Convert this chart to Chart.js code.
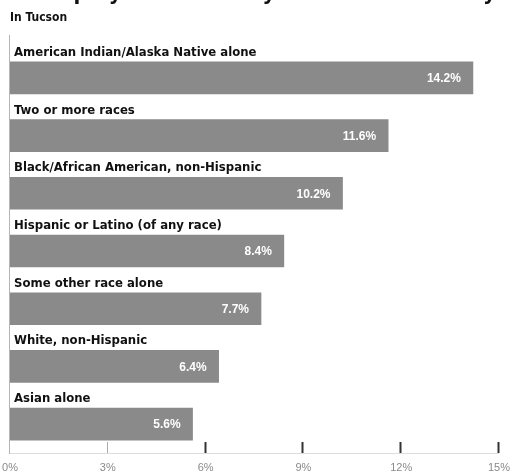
<!DOCTYPE html>
<html>
<head>
<meta charset="utf-8">
<script src="https://cdn.jsdelivr.net/npm/chart.js@4/dist/chart.umd.min.js"></script>
<style>
  body { margin: 0; background: #fff; }
  .wrap { position: relative; width: 511px; height: 476px; overflow: hidden; }
  .title {
    position: absolute; left: 8px; top: -18px; white-space: nowrap; color: #111;
    letter-spacing: 0.3px;
    font: bold 22px/22px "DejaVu Sans Condensed", "DejaVu Sans", sans-serif;
  }
  .sub {
    position: absolute; left: 10px; top: 11px; white-space: nowrap; color: #111;
    font: bold 12px/12px "DejaVu Sans Condensed", "DejaVu Sans", sans-serif;
  }
  canvas { position: absolute; left: 0; top: 0; }
</style>
</head>
<body>
<div class="wrap">
  <canvas id="chart" width="511" height="476"></canvas>
  <div class="title">Unemployment Rate by Race and Ethnicity</div>
  <div class="sub">In Tucson</div>
</div>
<script>
const categories = [
  'American Indian/Alaska Native alone',
  'Two or more races',
  'Black/African American, non-Hispanic',
  'Hispanic or Latino (of any race)',
  'Some other race alone',
  'White, non-Hispanic',
  'Asian alone'
];
const rates = [14.2, 11.6, 10.2, 8.4, 7.7, 6.4, 5.6];
const tickValues = [0, 3, 6, 9, 12, 15];

const labelFont = 'bold 13px "DejaVu Sans Condensed", "DejaVu Sans", sans-serif';
const valueFont = 'bold 12px "Liberation Sans", Arial, sans-serif';

// axis line, baseline and upward tick marks, drawn under the bars
const axisPlugin = {
  id: 'axisMarks',
  beforeDatasetsDraw(chart) {
    const { ctx, chartArea: a, scales: { x } } = chart;
    ctx.save();
    ctx.lineWidth = 1;
    ctx.strokeStyle = '#ddd';
    ctx.beginPath();
    ctx.moveTo(a.left, a.bottom + 0.5);
    ctx.lineTo(a.right, a.bottom + 0.5);
    ctx.stroke();

    ctx.strokeStyle = '#b5b5b5';
    ctx.beginPath();
    ctx.moveTo(a.left - 0.5, a.top - 14);
    ctx.lineTo(a.left - 0.5, a.bottom + 1);
    ctx.stroke();

    tickValues.forEach(v => {
      if (v === 0) return;
      const px = Math.round(x.getPixelForValue(v)) - 0.5;
      ctx.strokeStyle = v < 5 ? '#aaa' : '#333';
      ctx.lineWidth = v < 5 ? 1 : 2;
      ctx.beginPath();
      ctx.moveTo(px, a.bottom - 11);
      ctx.lineTo(px, a.bottom);
      ctx.stroke();
    });
    ctx.restore();
  },
  afterDatasetsDraw(chart) {
    const { ctx, chartArea: a } = chart;
    const bars = chart.getDatasetMeta(0).data;
    ctx.save();
    bars.forEach((bar, i) => {
      // category name above its bar
      ctx.font = labelFont;
      ctx.fillStyle = '#111';
      ctx.textAlign = 'left';
      ctx.textBaseline = 'alphabetic';
      ctx.fillText(categories[i], a.left + 4, bar.y - 22);
      // value inside the bar end
      ctx.font = valueFont;
      ctx.fillStyle = '#fff';
      ctx.textAlign = 'right';
      ctx.textBaseline = 'middle';
      ctx.fillText(rates[i].toFixed(1) + '%', bar.x - 12, bar.y + 1);
    });
    ctx.restore();
  }
};

new Chart(document.getElementById('chart'), {
  type: 'bar',
  data: {
    labels: categories,
    datasets: [{
      data: rates,
      backgroundColor: '#8a8a8a',
      barThickness: 32
    }]
  },
  plugins: [axisPlugin],
  options: {
    indexAxis: 'y',
    responsive: false,
    animation: false,
    layout: { padding: { left: 10, right: 12, top: 49, bottom: 0 } },
    plugins: {
      legend: { display: false },
      tooltip: { enabled: false },
      title: { display: false }
    },
    scales: {
      x: {
        min: 0,
        max: 15,
        grid: { display: false },
        border: { display: false },
        afterBuildTicks: s => { s.ticks = tickValues.map(v => ({ value: v })); },
        afterFit: s => { s.height = 23; s.paddingLeft = 0; s.paddingRight = 0; },
        ticks: {
          padding: 0,
          color: '#8a8a8a',
          maxRotation: 0,
          autoSkip: false,
          font: { family: '"Liberation Sans", Arial, sans-serif', size: 11 },
          callback: v => v + '%'
        }
      },
      y: {
        display: false,
        grid: { display: false }
      }
    }
  }
});
</script>
</body>
</html>
